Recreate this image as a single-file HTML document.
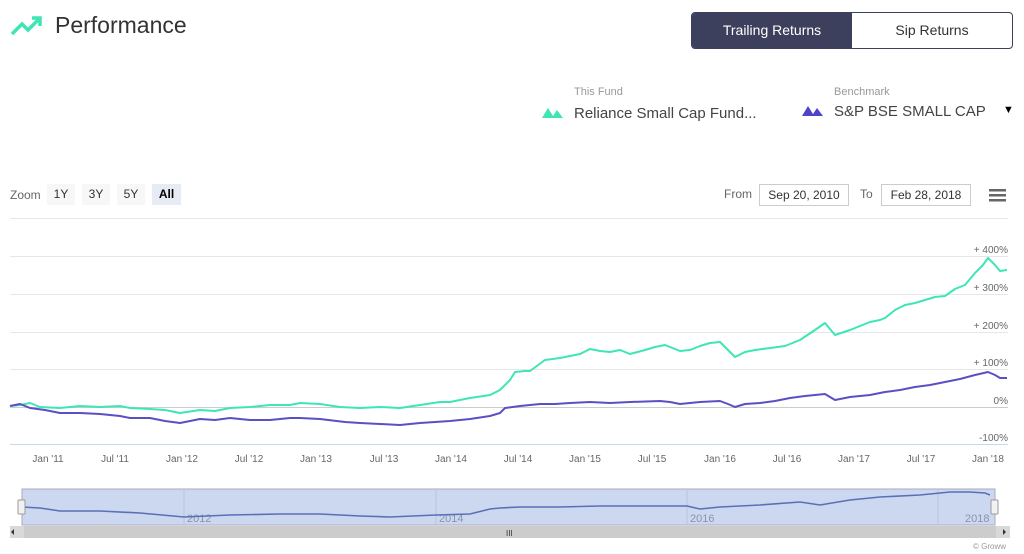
<!DOCTYPE html>
<html><head><style>
body{margin:0;width:1024px;height:554px;background:#fff;font-family:"Liberation Sans",sans-serif;overflow:hidden;position:relative}
.a{position:absolute}
</style></head><body>
<svg class="a" style="left:10px;top:14px" width="34" height="24"><polyline points="2,20 12,10 18,16 30,4" fill="none" stroke="#3ee6b5" stroke-width="3.5"/><polyline points="22,4 30,4 30,12" fill="none" stroke="#3ee6b5" stroke-width="3.5"/></svg>
<div class="a" style="left:55px;top:12px;font-size:23px;color:#333">Performance</div>
<div class="a" style="left:691px;top:12px;width:320px;height:35px;border:1px solid #3d405c;border-radius:4px;overflow:hidden;font-size:14px">
<div class="a" style="left:0;top:0;width:160px;height:35px;background:#3d405c;color:#fff;text-align:center;line-height:35px">Trailing Returns</div>
<div class="a" style="left:160px;top:0;width:160px;height:35px;color:#333;text-align:center;line-height:35px">Sip Returns</div></div>
<div class="a" style="left:574px;top:86px;font-size:11px;color:#999">This Fund</div>
<div class="a" style="left:574px;top:105px;font-size:15px;color:#444">Reliance Small Cap Fund...</div>
<svg class="a" style="left:542px;top:108px" width="22" height="10"><polygon points="0,10 6,0 11,8 15,2 21,10" fill="#3ee6b5"/></svg>
<div class="a" style="left:834px;top:86px;font-size:11px;color:#999">Benchmark</div>
<div class="a" style="left:834px;top:103px;font-size:15px;color:#444">S&amp;P BSE SMALL CAP</div>
<svg class="a" style="left:802px;top:106px" width="22" height="10"><polygon points="0,10 6,0 11,8 15,2 21,10" fill="#4f43c9"/></svg>
<div class="a" style="left:1003px;top:104px;font-size:11px;color:#000">▼</div>
<div class="a" style="left:10px;top:188px;font-size:12px;color:#666">Zoom</div>
<div class="a" style="left:47px;top:184px;width:28px;height:21px;background:#f7f7f7;font-size:12px;color:#333;text-align:center;line-height:21px">1Y</div>
<div class="a" style="left:82px;top:184px;width:28px;height:21px;background:#f7f7f7;font-size:12px;color:#333;text-align:center;line-height:21px">3Y</div>
<div class="a" style="left:117px;top:184px;width:28px;height:21px;background:#f7f7f7;font-size:12px;color:#333;text-align:center;line-height:21px">5Y</div>
<div class="a" style="left:152px;top:184px;width:29px;height:21px;background:#e6ebf5;font-size:12px;color:#000;font-weight:bold;text-align:center;line-height:21px">All</div>
<div class="a" style="left:724px;top:187px;font-size:12px;color:#666">From</div>
<div class="a" style="left:759px;top:184px;width:88px;height:20px;border:1px solid #ccc;font-size:12px;color:#333;text-align:center;line-height:20px">Sep 20, 2010</div>
<div class="a" style="left:860px;top:187px;font-size:12px;color:#666">To</div>
<div class="a" style="left:881px;top:184px;width:88px;height:20px;border:1px solid #ccc;font-size:12px;color:#333;text-align:center;line-height:20px">Feb 28, 2018</div>
<svg class="a" style="left:989px;top:189px" width="17" height="14"><rect y="0" width="17" height="2.5" fill="#666"/><rect y="5" width="17" height="2.5" fill="#666"/><rect y="10" width="17" height="2.5" fill="#666"/></svg>
<svg class="a" style="left:0;top:0" width="1024" height="554">
<g stroke="#e6e6e6" stroke-width="1">
<line x1="10" x2="1008" y1="218.5" y2="218.5"/><line x1="10" x2="1008" y1="256.5" y2="256.5"/><line x1="10" x2="1008" y1="294.5" y2="294.5"/><line x1="10" x2="1008" y1="332.5" y2="332.5"/><line x1="10" x2="1008" y1="369.5" y2="369.5"/><line x1="10" x2="1008" y1="444.5" y2="444.5" stroke="#ccd6eb"/></g>
<line x1="10" x2="1008" y1="407.5" y2="407.5" stroke="#ccc"/>
<g font-size="10" fill="#666" text-anchor="end">
<text x="1008" y="253">+ 400%</text><text x="1008" y="291">+ 300%</text><text x="1008" y="329">+ 200%</text><text x="1008" y="366">+ 100%</text><text x="1008" y="404">0%</text><text x="1008" y="441">-100%</text></g>
<g font-size="10" fill="#666" text-anchor="middle">
<text x="48" y="462">Jan '11</text><text x="115" y="462">Jul '11</text><text x="182" y="462">Jan '12</text><text x="249" y="462">Jul '12</text><text x="316" y="462">Jan '13</text><text x="384" y="462">Jul '13</text><text x="451" y="462">Jan '14</text><text x="518" y="462">Jul '14</text><text x="585" y="462">Jan '15</text><text x="652" y="462">Jul '15</text><text x="720" y="462">Jan '16</text><text x="787" y="462">Jul '16</text><text x="854" y="462">Jan '17</text><text x="921" y="462">Jul '17</text><text x="988" y="462">Jan '18</text></g>
<polyline fill="none" stroke="#3ee6b5" stroke-width="2" stroke-linejoin="round" points="10,406 20,405 30,403 40,407 60,408 80,406 100,407 120,406 130,408 150,409 165,410 180,413 200,410 215,411 230,408 250,407 270,405 290,405 300,403 320,404 340,407 360,408 380,407 400,408 420,405 440,402 450,402 470,398 490,395 500,390 510,380 515,372 525,371 530,371 545,360 560,358 570,356 580,354 590,349 600,351 610,352 620,350 630,354 645,350 655,347 665,345 680,351 690,350 700,346 710,343 720,342 728,350 735,357 745,352 755,350 770,348 785,346 800,340 815,330 825,323 835,335 850,330 860,326 870,322 880,320 885,318 895,310 905,305 915,303 925,300 935,297 945,296 955,289 965,285 975,273 983,265 988,258 995,265 1000,271 1007,270"/>
<polyline fill="none" stroke="#5a4fc4" stroke-width="2" stroke-linejoin="round" points="10,406 20,404 30,408 45,410 60,413 80,413 100,414 120,416 130,418 150,418 165,421 180,423 200,419 215,420 230,418 250,420 270,420 290,418 300,418 320,419 345,422 360,423 380,424 400,425 420,423 450,421 470,419 490,416 500,413 505,408 520,406 540,404 555,404 570,403 590,402 610,403 630,402 660,401 670,402 680,404 700,402 720,401 728,404 735,407 745,404 760,403 775,401 790,398 805,396 815,395 825,394 835,400 850,397 870,395 885,392 900,390 915,387 930,385 945,382 960,379 975,375 988,372 995,375 1000,378 1007,378"/>
<rect x="22" y="489" width="973" height="36" fill="#ccd8f0" stroke="#aab"/>
<g stroke="#b8c4dd"><line x1="184" x2="184" y1="489" y2="525"/><line x1="436" x2="436" y1="489" y2="525"/><line x1="687" x2="687" y1="489" y2="525"/><line x1="938" x2="938" y1="489" y2="525"/></g>
<g font-size="11" fill="#8894b0"><text x="187" y="522">2012</text><text x="439" y="522">2014</text><text x="690" y="522">2016</text><text x="965" y="522">2018</text></g>
<polyline fill="none" stroke="#5b6fb5" stroke-width="1.6" points="22,507 40,508 60,511 100,511 140,513 184,517 230,515 280,514 320,514 360,516 390,517 436,515 470,514 490,509 500,508 520,507 560,507 600,506 620,506 660,506 687,506 700,509 720,507 760,505 800,502 820,505 850,500 880,497 920,495 950,492 970,492 985,493 990,495"/>
<rect x="18" y="500" width="7" height="14" rx="1" fill="#f2f2f2" stroke="#999"/>
<rect x="991" y="500" width="7" height="14" rx="1" fill="#f2f2f2" stroke="#999"/>
<rect x="10" y="526" width="1000" height="12" fill="#d9d9d9"/>
<rect x="24" y="526" width="972" height="12" fill="#cccccc"/>
<text x="506" y="536" font-size="8" fill="#333">III</text>
<polygon points="14,529 14,535 11,532" fill="#333"/><polygon points="1003,529 1003,535 1006,532" fill="#333"/>
<text x="1006" y="549" font-size="8" fill="#999" text-anchor="end">© Groww</text>
</svg>
</body></html>
